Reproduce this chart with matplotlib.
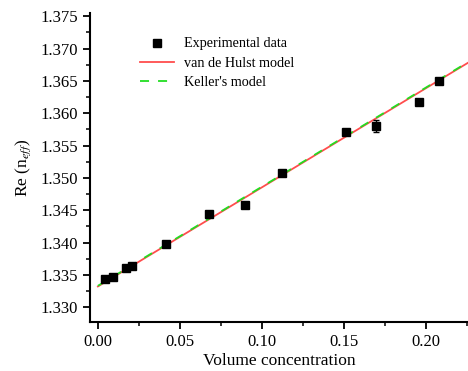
import numpy as np
import matplotlib
matplotlib.use("Agg")
import matplotlib.pyplot as plt
from matplotlib.ticker import MultipleLocator, FormatStrFormatter
from matplotlib.lines import Line2D

plt.rcParams["font.family"] = ["Liberation Serif", "DejaVu Serif"]
plt.rcParams["mathtext.fontset"] = "stix"

# experimental points
conc = [0.0043, 0.0091, 0.0170, 0.0207, 0.0415, 0.0677, 0.0896, 0.1122, 0.1512, 0.1695, 0.1957, 0.2080]
re_n = [1.3343, 1.3347, 1.3360, 1.3363, 1.3398, 1.3444, 1.3458, 1.3508, 1.3571, 1.3580, 1.3617, 1.3650]
err = [0.0003, 0.0003, 0.0003, 0.0003, 0.0003, 0.0003, 0.0003, 0.0003, 0.0003, 0.0009, 0.0003, 0.0003]

# model curves
hulst_x = [0.0, 0.2256]
hulst_y = [1.3332, 1.3678]
keller_x = [0.0, 0.2256]
keller_y = [1.3333, 1.3679]

fig = plt.figure(figsize=(4.68, 3.71), dpi=100)
ax = fig.add_axes([0.192, 0.132, 0.808, 0.833])

ax.plot(hulst_x, hulst_y, color="#ff4d4d", lw=1.3, zorder=2)
ax.plot(keller_x, keller_y, color="#22dd22", lw=1.3, ls=(0, (5, 5)), zorder=3)
ax.errorbar(conc, re_n, yerr=err, fmt="s", color="black", ms=6, capsize=2.5, elinewidth=1, zorder=4)

ax.set_xlim(-0.0049, 0.2256)
ax.set_ylim(1.3277, 1.3755)
ax.xaxis.set_major_locator(MultipleLocator(0.05))
ax.xaxis.set_minor_locator(MultipleLocator(0.025))
ax.yaxis.set_major_locator(MultipleLocator(0.005))
ax.yaxis.set_minor_locator(MultipleLocator(0.0025))
ax.xaxis.set_major_formatter(FormatStrFormatter("%.2f"))
ax.yaxis.set_major_formatter(FormatStrFormatter("%.3f"))

ax.spines["top"].set_visible(False)
ax.spines["right"].set_visible(False)
ax.spines["left"].set_linewidth(1.5)
ax.spines["bottom"].set_linewidth(1.5)
ax.tick_params(which="major", direction="out", length=5, width=1.3, labelsize=12)
ax.tick_params(which="minor", direction="out", length=3, width=1.1)

ax.set_xlabel("Volume concentration", fontsize=12.5, labelpad=2)
ax.set_ylabel(r"Re (n$_{eff}$)", fontsize=12.5, labelpad=5)

handles = [
    Line2D([], [], ls="none", marker="s", color="black", ms=6),
    Line2D([], [], color="#ff4d4d", lw=1.3),
    Line2D([], [], color="#22dd22", lw=1.3, ls=(0, (5, 5))),
]
labels = ["Experimental data", "van de Hulst model", "Keller's model"]
ax.legend(handles, labels, loc="upper left", bbox_to_anchor=(0.099, 0.962), frameon=False,
          fontsize=10.2, handlelength=2.4, handletextpad=0.7, labelspacing=0.45)

fig.savefig("out.png", dpi=100)
